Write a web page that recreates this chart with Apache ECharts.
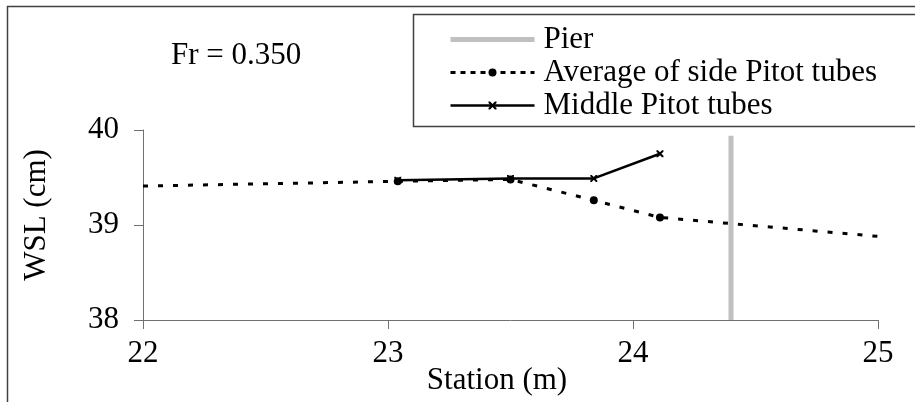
<!DOCTYPE html>
<html>
<head>
<meta charset="utf-8">
<script src="https://cdn.jsdelivr.net/npm/echarts@6/dist/echarts.min.js"></script>
<style>
  html, body { margin: 0; padding: 0; background: #ffffff; }
  #chart { width: 915px; height: 402px; }
</style>
</head>
<body>
<div id="chart"></div>
<script>
// Station (m) and water surface level (cm)
const sideStations = [22.0, 23.04, 23.5, 23.84, 24.11, 25.0];
const sideWSL      = [39.41, 39.46, 39.48, 39.26, 39.08, 38.88];
const sideMarked   = [false, true, true, true, true, false];

const middleStations = [23.04, 23.5, 23.84, 24.11];
const middleWSL      = [39.47, 39.49, 39.49, 39.75];

const pierStation = 24.4;
const pierWSL = [38, 39.94];

const xTicks = { min: 22, max: 25, step: 1 };
const yTicks = { min: 38, max: 40, step: 1 };

const FONT = '"Liberation Serif", "Times New Roman", serif';
const FS = 31;

const chart = echarts.init(document.getElementById('chart'), null, { renderer: 'canvas' });

const sideData = sideStations.map((s, i) => ({
  value: [s, sideWSL[i]],
  symbol: sideMarked[i] ? 'circle' : 'none'
}));
const middleData = middleStations.map((s, i) => [s, middleWSL[i]]);
const pierData = pierWSL.map(v => [pierStation, v]);

// small asterisk-like cross used for the middle tube readings
const xMark = 'path://M0,0 L2,0 L5,3 L8,0 L10,0 L10,2 L7,5 L10,8 L10,10 L8,10 L5,7 L2,10 L0,10 L0,8 L3,5 L0,2 Z';

chart.setOption({
  animation: false,
  backgroundColor: '#ffffff',
  title: {
    text: 'Fr = 0.350',
    left: 171,
    top: 40,
    padding: 0,
    textStyle: { fontFamily: FONT, fontSize: FS, fontWeight: 'normal', color: '#000' }
  },
  grid: { left: 143, right: 37, top: 130, bottom: 82, containLabel: false },
  legend: {
    orient: 'vertical',
    left: 449,
    top: 24,
    padding: 0,
    itemGap: 2,
    itemWidth: 84,
    itemHeight: 10,
    textStyle: { fontFamily: FONT, fontSize: FS, color: '#000', padding: [0, 0, 0, 4] },
    data: [
      { name: 'Pier', icon: 'path://M0,0 H84 V5 H0 Z', itemStyle: { color: '#c0c0c0' } },
      { name: 'Average of side Pitot tubes', lineStyle: { type: [5, 5], width: 3, color: '#000' } },
      { name: 'Middle Pitot tubes', lineStyle: { width: 2.5, color: '#000' } }
    ]
  },
  xAxis: {
    type: 'value',
    min: xTicks.min,
    max: xTicks.max,
    interval: xTicks.step,
    axisLine: { show: true, lineStyle: { color: '#707070', width: 1 } },
    axisTick: { show: true, length: 9, lineStyle: { color: '#707070' } },
    splitLine: { show: false },
    axisLabel: { margin: 18, fontFamily: FONT, fontSize: FS, color: '#000' }
  },
  yAxis: {
    type: 'value',
    min: yTicks.min,
    max: yTicks.max,
    interval: yTicks.step,
    axisLine: { show: true, lineStyle: { color: '#707070', width: 1 } },
    axisTick: { show: true, length: 9, lineStyle: { color: '#707070' } },
    splitLine: { show: false },
    axisLabel: { margin: 24, fontFamily: FONT, fontSize: FS, color: '#000' }
  },
  graphic: [
    {
      type: 'rect',
      shape: { x: 7.5, y: 6.5, width: 940, height: 420 },
      style: { fill: 'none', stroke: '#404040', lineWidth: 1.5 },
      z: 0, silent: true
    },
    {
      type: 'rect',
      shape: { x: 413.5, y: 14.5, width: 520, height: 112 },
      style: { fill: '#ffffff', stroke: '#404040', lineWidth: 1.5 },
      z: 1, silent: true
    },
    {
      type: 'text',
      x: 497,
      y: 381,
      style: {
        text: 'Station (m)', fontFamily: FONT, fontSize: FS, fill: '#000',
        align: 'center', verticalAlign: 'middle'
      },
      z: 5
    },
    {
      type: 'text',
      x: 37,
      y: 215,
      rotation: Math.PI / 2,
      style: {
        text: 'WSL (cm)', fontFamily: FONT, fontSize: FS, fill: '#000',
        align: 'center', verticalAlign: 'middle'
      },
      z: 5
    }
  ],
  series: [
    {
      name: 'Pier',
      type: 'line',
      data: pierData,
      symbol: 'none',
      lineStyle: { color: '#c0c0c0', width: 5 },
      itemStyle: { color: '#c0c0c0' },
      z: 2
    },
    {
      name: 'Average of side Pitot tubes',
      type: 'line',
      data: sideData,
      symbol: 'circle',
      symbolSize: 8,
      lineStyle: { color: '#000', width: 3, type: [5, 10] },
      itemStyle: { color: '#000' },
      z: 3
    },
    {
      name: 'Middle Pitot tubes',
      type: 'line',
      data: middleData,
      symbol: xMark,
      symbolSize: 7,
      lineStyle: { color: '#000', width: 2.5 },
      itemStyle: { color: '#000' },
      z: 4
    }
  ]
});
</script>
</body>
</html>
